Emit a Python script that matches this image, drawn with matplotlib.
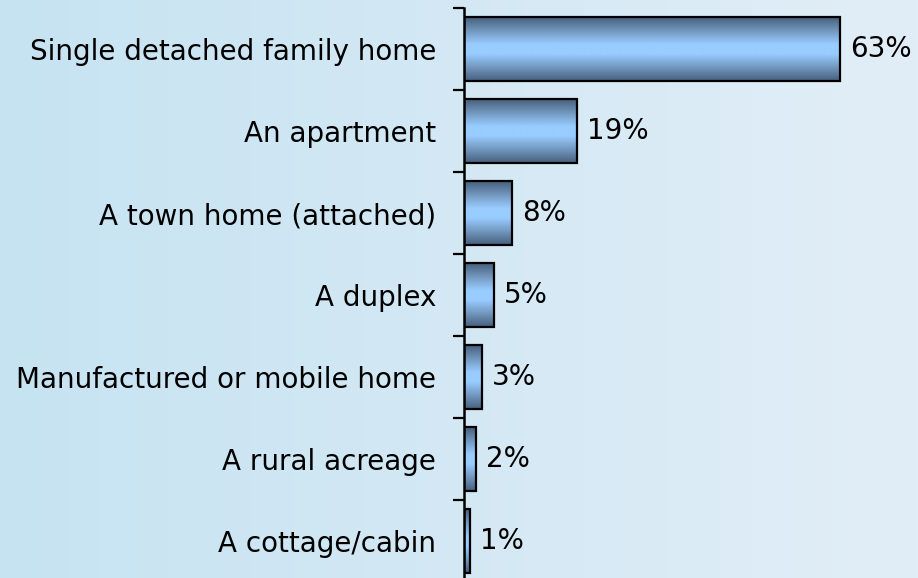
import matplotlib
matplotlib.use("Agg")
import matplotlib.pyplot as plt
import numpy as np
from matplotlib.colors import LinearSegmentedColormap

categories = ["Single detached family home", "An apartment", "A town home (attached)",
              "A duplex", "Manufactured or mobile home", "A rural acreage", "A cottage/cabin"]
values = [63, 19, 8, 5, 3, 2, 1]
value_labels = ["63%", "19%", "8%", "5%", "3%", "2%", "1%"]

W, H = 918, 578
fig = plt.figure(figsize=(W / 100, H / 100), dpi=100)

# background gradient
bg = fig.add_axes([0, 0, 1, 1], zorder=-10)
bg_cmap = LinearSegmentedColormap.from_list("bg", ["#c6e3f2", "#e2eef7"])
bg.imshow(np.linspace(0, 1, 256).reshape(1, -1), aspect="auto", cmap=bg_cmap,
          extent=[0, 1, 0, 1])
bg.set_axis_off()

# axes: x from 464px to 918px; y from 8px to 582px (top-down)
x0 = 464 / W
y_top = 8
y_bot = 582
ax = fig.add_axes([x0, (H - y_bot) / H, 1 - x0, (y_bot - y_top) / H])
ax.patch.set_alpha(0)

px_per_pct = 5.97
n = len(categories)

bar_h = 0.78
bars = ax.barh(range(n), values, height=bar_h, color="none", edgecolor="black",
               linewidth=1.6, zorder=3)

bar_cmap = LinearSegmentedColormap.from_list(
    "bar", [(0, "#46607e"), (0.18, "#6c8fb4"), (0.42, "#99ccff"), (0.58, "#99ccff"),
            (0.82, "#6c8fb4"), (1, "#46607e")])
grad = np.linspace(0, 1, 128).reshape(-1, 1)
for i, (b, v) in enumerate(zip(bars, values)):
    im = ax.imshow(grad, aspect="auto", cmap=bar_cmap,
                   extent=[0, v, i + bar_h / 2, i - bar_h / 2], zorder=2,
                   interpolation="bilinear")
    im.set_clip_path(b)
    ax.text(v + 10 / px_per_pct, i, value_labels[i], va="center", ha="left",
            fontsize=20, color="black")

ax.set_xlim(0, (W - 464) / px_per_pct)
ax.set_ylim(n - 0.5, -0.5)

for s in ["top", "right", "bottom"]:
    ax.spines[s].set_visible(False)
ax.spines["left"].set_linewidth(1.8)
ax.set_xticks([])
ax.set_yticks(range(n))
ax.set_yticklabels(categories, fontsize=20)
ax.tick_params(axis="y", which="major", length=0, pad=20)
ax.set_yticks(np.arange(-0.5, n + 0.5, 1), minor=True)
ax.tick_params(axis="y", which="minor", length=8, width=1.6, direction="out")

fig.savefig("out.png", dpi=100)
